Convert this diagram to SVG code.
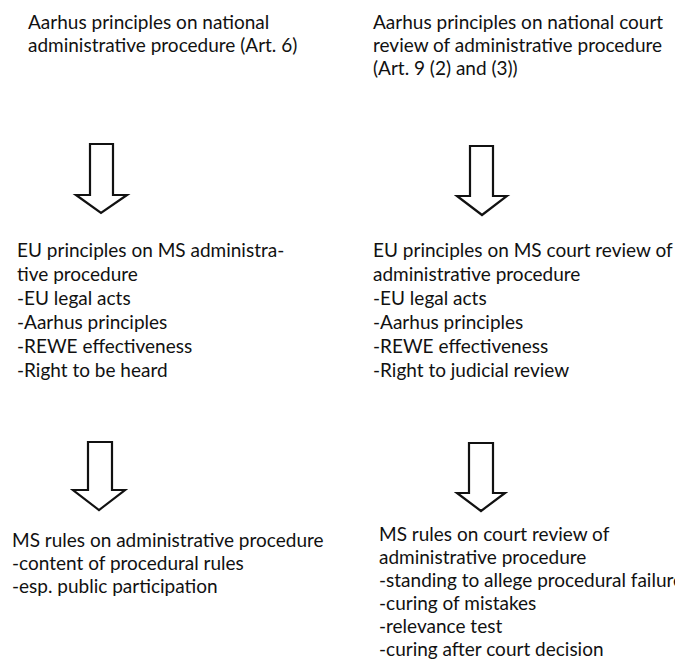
<svg xmlns="http://www.w3.org/2000/svg" width="675" height="665" viewBox="0 0 675 665">
<style>
text{font-family:Lato,"Liberation Sans",sans-serif;font-size:19px;fill:#111}
.arr{fill:#fff;stroke:#111;stroke-width:2.2;stroke-linejoin:miter}
</style>
<rect width="675" height="665" fill="#fff"/>
<g id="n1">
<text x="28" y="29">Aarhus principles on national</text>
<text x="28" y="52">administrative procedure (Art. 6)</text>
</g>
<g id="n2">
<text x="373" y="29">Aarhus principles on national court</text>
<text x="373" y="52">review of administrative procedure</text>
<text x="373" y="75">(Art. 9 (2) and (3))</text>
</g>
<g id="n3">
<text x="17" y="257">EU principles on MS administra-</text>
<text x="17" y="281">tive procedure</text>
<text x="17" y="305">-EU legal acts</text>
<text x="17" y="329">-Aarhus principles</text>
<text x="17" y="353">-REWE effectiveness</text>
<text x="17" y="377">-Right to be heard</text>
</g>
<g id="n4">
<text x="373" y="257">EU principles on MS court review of</text>
<text x="373" y="281">administrative procedure</text>
<text x="373" y="305">-EU legal acts</text>
<text x="373" y="329">-Aarhus principles</text>
<text x="373" y="353">-REWE effectiveness</text>
<text x="373" y="377">-Right to judicial review</text>
</g>
<g id="n5">
<text x="12" y="547">MS rules on administrative procedure</text>
<text x="12" y="570">-content of procedural rules</text>
<text x="12" y="593">-esp. public participation</text>
</g>
<g id="n6">
<text x="379" y="541">MS rules on court review of</text>
<text x="379" y="564">administrative procedure</text>
<text x="379" y="587">-standing to allege procedural failure</text>
<text x="379" y="610">-curing of mistakes</text>
<text x="379" y="633">-relevance test</text>
<text x="379" y="656">-curing after court decision</text>
</g>
<g id="connectors">
<polygon class="arr" points="90,144 113,144 113,195 127,195 101,213 76,195 90,195"/>
<polygon class="arr" points="470,146 493,146 493,196 507,196 482,215 457,196 470,196"/>
<polygon class="arr" points="88,442 112,442 112,490 125,490 99,510 73,490 88,490"/>
<polygon class="arr" points="469,443 493,443 493,493 505,493 481,511 457,493 469,493"/>
</g>
</svg>
